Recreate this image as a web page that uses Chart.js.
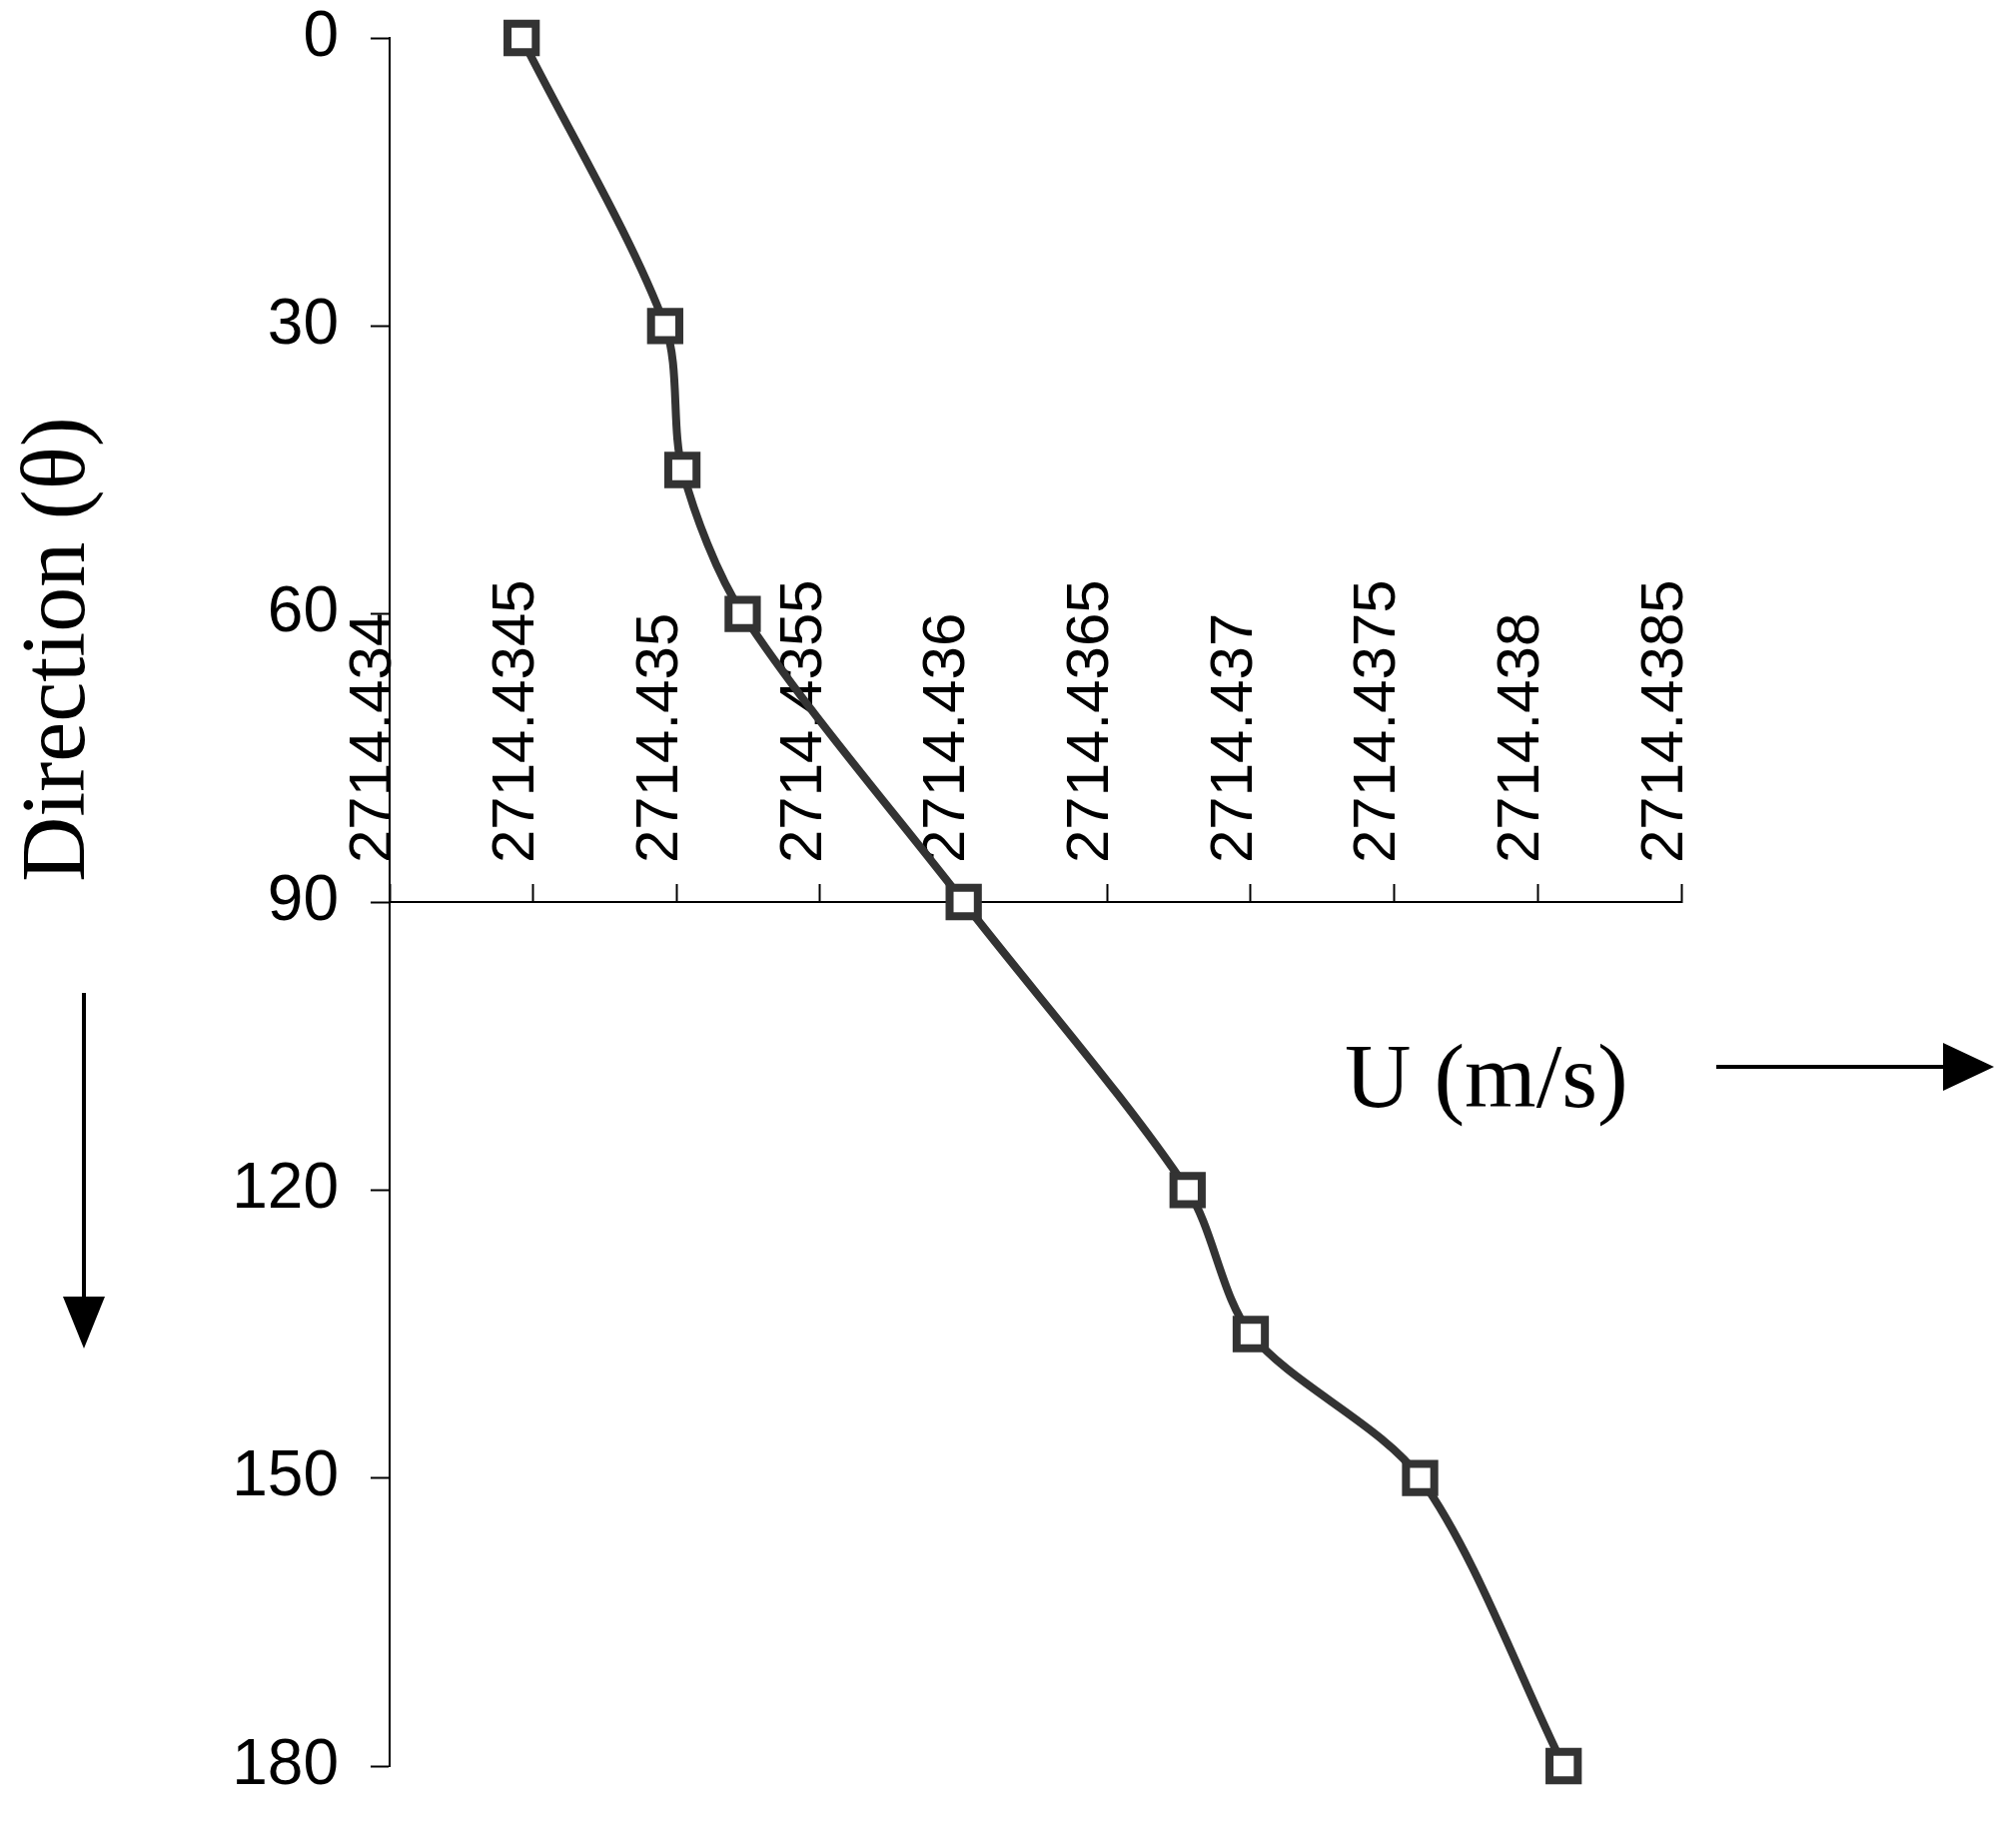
<!DOCTYPE html>
<html>
<head>
<meta charset="utf-8">
<script src="https://cdn.jsdelivr.net/npm/chart.js@4/dist/chart.umd.min.js"></script>
<style>
  html, body { margin: 0; padding: 0; background: #fff; }
  #wrap { width: 2018px; height: 1832px; position: relative; }
</style>
</head>
<body>
<div id="wrap"><canvas id="chart"></canvas></div>
<script>
// direction (deg) and velocity U (m/s)
const theta = [0, 30, 45, 60, 90, 120, 135, 150, 180];
const velocity = [2714.43446, 2714.43496, 2714.43502, 2714.43523, 2714.43600,
                  2714.43678, 2714.43700, 2714.43759, 2714.43809];

const thetaTicks = [0, 30, 60, 90, 120, 150, 180];
const uTicks = [2714.434, 2714.4345, 2714.435, 2714.4355, 2714.436,
                2714.4365, 2714.437, 2714.4375, 2714.438, 2714.4385];

const yTitle = 'Direction (\u03b8)';
const xTitle = 'U (m/s)';

Chart.defaults.font.family = '"Liberation Sans", Arial, sans-serif';
Chart.defaults.color = '#000';

// x labels sit above the axis line, reading upward from just over the ticks
const labelsUp = {
  id: 'labelsUp',
  beforeDraw(chart) {
    const s = chart.scales.x;
    s._getXAxisLabelAlignment = () => 'left';
    s._labelItems = null;
  }
};

const notes = {
  id: 'notes',
  afterDraw(chart) {
    const ctx = chart.ctx;
    ctx.save();
    ctx.fillStyle = '#000';
    ctx.strokeStyle = '#000';

    ctx.font = '90px "Liberation Serif", "Times New Roman", serif';
    ctx.save();
    ctx.translate(60, 650);
    ctx.rotate(-Math.PI / 2);
    ctx.textAlign = 'center';
    ctx.textBaseline = 'middle';
    ctx.fillText(yTitle, 0, 0);
    ctx.restore();

    ctx.font = '92px "Liberation Serif", "Times New Roman", serif';
    ctx.textAlign = 'left';
    ctx.textBaseline = 'alphabetic';
    ctx.fillText(xTitle, 1346, 1108);

    // down arrow
    ctx.lineWidth = 4;
    ctx.beginPath();
    ctx.moveTo(84, 994);
    ctx.lineTo(84, 1300);
    ctx.stroke();
    ctx.beginPath();
    ctx.moveTo(63, 1298);
    ctx.lineTo(105, 1298);
    ctx.lineTo(84, 1350);
    ctx.closePath();
    ctx.fill();

    // right arrow
    ctx.beginPath();
    ctx.moveTo(1718, 1068);
    ctx.lineTo(1948, 1068);
    ctx.stroke();
    ctx.beginPath();
    ctx.moveTo(1945, 1044);
    ctx.lineTo(1945, 1092);
    ctx.lineTo(1996, 1068);
    ctx.closePath();
    ctx.fill();

    ctx.restore();
  }
};

new Chart(document.getElementById('chart'), {
  type: 'line',
  data: {
    datasets: [{
      data: velocity.map((u, i) => ({ x: u, y: theta[i] })),
      borderColor: '#333333',
      borderWidth: 8,
      tension: 0.3,
      pointStyle: 'rect',
      pointRadius: 20,
      pointBorderWidth: 8,
      pointBorderColor: '#333333',
      pointBackgroundColor: '#ffffff',
      clip: false
    }]
  },
  options: {
    responsive: true,
    maintainAspectRatio: false,
    devicePixelRatio: 1,
    animation: false,
    layout: { autoPadding: false, padding: { left: 0, right: 335, top: 38, bottom: 64 } },
    plugins: { legend: { display: false }, tooltip: { enabled: false } },
    scales: {
      x: {
        type: 'linear',
        position: { y: 90 },
        min: 2714.434,
        max: 2714.4385,
        afterBuildTicks: s => { s.ticks = uTicks.map(v => ({ value: v })); },
        grid: { drawOnChartArea: false, tickLength: -19, tickWidth: 2, tickColor: '#000' },
        border: { color: '#000', width: 2 },
        ticks: {
          autoSkip: false,
          minRotation: 90,
          maxRotation: 90,
          padding: -20,
          labelOffset: -16,
          font: { size: 60 },
          callback: v => String(Number(v.toFixed(4)))
        }
      },
      y: {
        type: 'linear',
        reverse: true,
        min: 0,
        max: 180,
        afterBuildTicks: s => { s.ticks = thetaTicks.map(v => ({ value: v })); },
        afterFit: s => { s.width = 390; s.paddingTop = 0; s.paddingBottom = 0; },
        grid: { drawOnChartArea: false, tickLength: 19, tickWidth: 2, tickColor: '#000' },
        border: { color: '#000', width: 2 },
        ticks: { padding: 32, font: { size: 64 } }
      }
    }
  },
  plugins: [labelsUp, notes]
});
</script>
</body>
</html>
